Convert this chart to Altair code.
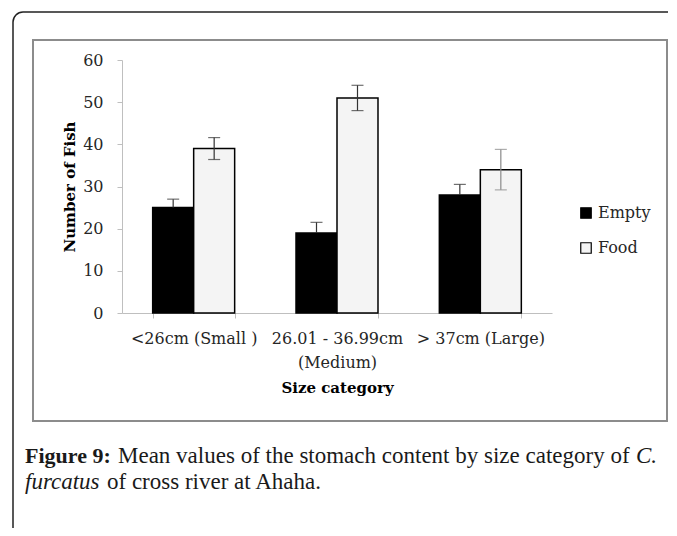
import altair as alt
import pandas as pd

# ---- data ----
categories = ["<26cm (Small )", "26.01 - 36.99cm (Medium)", "> 37cm (Large)"]
series = ["Empty", "Food"]
empty_values = [25, 19, 28]
food_values = [39, 51, 34]
empty_err = [2.0, 2.5, 2.5]
food_err = [2.6, 3.0, 4.8]
y_ticks = [0, 10, 20, 30, 40, 50, 60]

caption_bold = "Figure 9:"
caption_line1 = "Mean values of the stomach content by size category of"
caption_italic1 = "C."
caption_italic2 = "furcatus"
caption_line2 = "of cross river at Ahaha."

rows = []
for i, c in enumerate(categories):
    rows.append(dict(cat=c, series="Empty", value=empty_values[i], err=empty_err[i]))
    rows.append(dict(cat=c, series="Food", value=food_values[i], err=food_err[i]))
df = pd.DataFrame(rows)

FONT = "DejaVu Serif"
CAP_FONT = "Liberation Serif"
TXT = "#262626"

x_enc = alt.X(
    "cat:N",
    sort=categories,
    scale=alt.Scale(paddingInner=0.428, paddingOuter=0.214),
    axis=alt.Axis(
        title="Size category",
        labelAngle=0,
        tickBand="extent",
        tickSize=5,
        labelPadding=12,
        labelFont=FONT,
        labelFontSize=16,
        labelColor=TXT,
        labelLineHeight=24,
        labelExpr="datum.value == '26.01 - 36.99cm (Medium)' ? ['26.01 - 36.99cm', '(Medium)'] : datum.label",
        titleFont=FONT,
        titleFontSize=15,
        titleFontWeight="bold",
        titleColor="black",
        titlePadding=10,
        domainColor="#bfbfbf",
        tickColor="#bfbfbf",
    ),
)
xo_enc = alt.XOffset("series:N", sort=series, scale=alt.Scale(paddingInner=0, paddingOuter=0))
y_scale = alt.Scale(domain=[0, 60], nice=False)

bars = alt.Chart(df).mark_bar(stroke="black", strokeWidth=1.5).encode(
    x=x_enc,
    xOffset=xo_enc,
    y=alt.Y(
        "value:Q",
        scale=y_scale,
        axis=alt.Axis(
            title="Number of Fish",
            values=y_ticks,
            grid=False,
            tickSize=5,
            labelPadding=14,
            labelFont=FONT,
            labelFontSize=16,
            labelColor=TXT,
            titleFont=FONT,
            titleFontSize=15,
            titleFontWeight="bold",
            titleColor="black",
            titlePadding=5,
            domainColor="#bfbfbf",
            tickColor="#bfbfbf",
        ),
    ),
    color=alt.Color(
        "series:N",
        sort=series,
        scale=alt.Scale(domain=series, range=["black", "#f4f4f4"]),
        legend=alt.Legend(
            title=None,
            orient="none",
            legendX=456,
            legendY=145,
            symbolType="square",
            symbolSize=110,
            symbolStrokeColor="black",
            symbolStrokeWidth=1.2,
            labelFont=FONT,
            labelFontSize=16,
            labelColor=TXT,
            rowPadding=19,
            labelOffset=4,
        ),
    ),
)

err_base = alt.Chart(df).transform_calculate(
    hi="datum.value + datum.err",
    lo="datum.series == 'Empty' ? datum.value : datum.value - datum.err",
    lo_cap="datum.value - datum.err",
)
err_color = alt.condition("datum.cat == '> 37cm (Large)' && datum.series == 'Food'", alt.value("#8a8a8a"), alt.value("#333333"))

err_rule = err_base.mark_rule(strokeWidth=1.2).encode(
    x=alt.X("cat:N", sort=categories), xOffset=xo_enc,
    y=alt.Y("lo:Q", scale=y_scale), y2="hi:Q", color=err_color,
)
cap_hi = err_base.mark_tick(size=12, thickness=1.2, orient="horizontal").encode(
    x=alt.X("cat:N", sort=categories), xOffset=xo_enc,
    y=alt.Y("hi:Q", scale=y_scale), color=err_color,
)
cap_lo = err_base.transform_filter("datum.series == 'Food'").mark_tick(size=12, thickness=1.2, orient="horizontal").encode(
    x=alt.X("cat:N", sort=categories), xOffset=xo_enc,
    y=alt.Y("lo_cap:Q", scale=y_scale), color=err_color,
)

one = alt.Data(values=[{"k": 1}])

outer_frame = alt.Chart(one).mark_rect(fill="transparent", stroke="#222222", strokeWidth=1.5, cornerRadius=10).encode(
    x=alt.value(-109), x2=alt.value(640), y=alt.value(-48), y2=alt.value(520)
)
inner_frame = alt.Chart(one).mark_rect(fill="transparent", stroke="#8c8c8c", strokeWidth=2).encode(
    x=alt.value(-89), x2=alt.value(545), y=alt.value(-20), y2=alt.value(361)
)

def cap_text(txt, x, y, size=23, weight="normal", style="normal"):
    return alt.Chart(one).mark_text(
        text=txt, align="left", baseline="alphabetic", font=CAP_FONT, fontSize=size,
        fontWeight=weight, fontStyle=style, color="#1a1a1a",
    ).encode(x=alt.value(x), y=alt.value(y))

caption = (
    cap_text(caption_bold, -97, 403, size=22, weight="bold")
    + cap_text(caption_line1, -4, 403)
    + cap_text(caption_italic1, 514, 403, style="italic")
    + cap_text(caption_italic2, -97, 429, style="italic")
    + cap_text(caption_line2, -15, 429)
)

chart = alt.layer(
    outer_frame, inner_frame, bars, err_rule, cap_hi, cap_lo, caption
).properties(
    width=430,
    height=253,
    autosize=alt.AutoSizeParams(type="none"),
    padding={"left": 114, "top": 52, "right": 116, "bottom": 215},
).configure_view(stroke=None)

chart.save("out.html", embed_options={"renderer": "svg", "actions": False})
